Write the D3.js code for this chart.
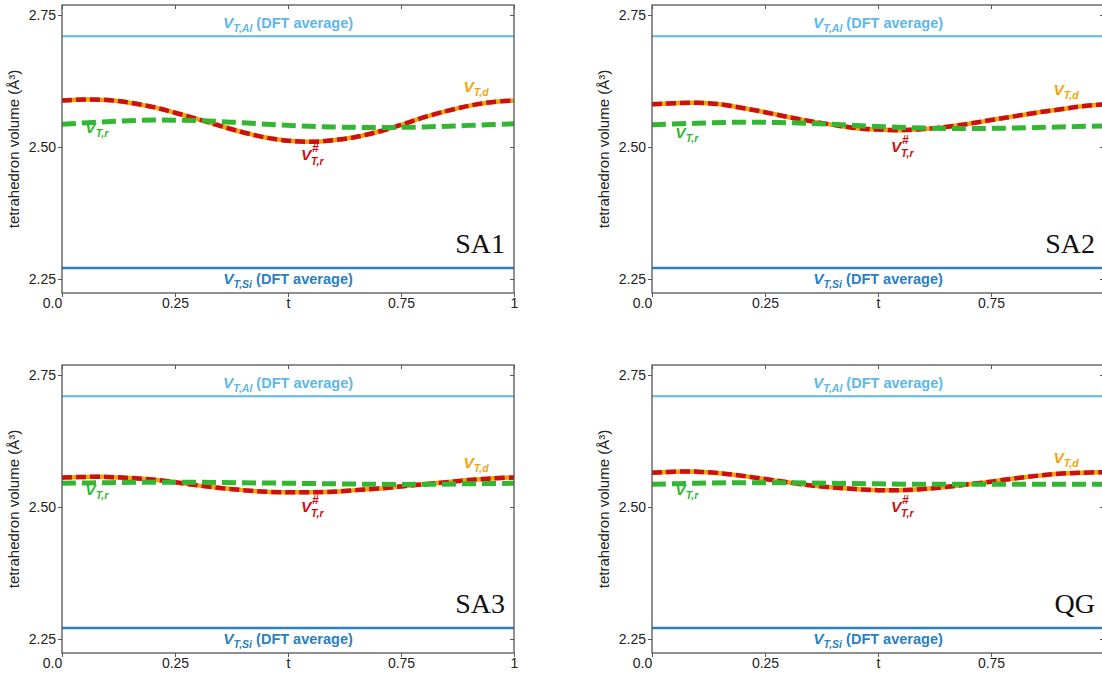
<!DOCTYPE html>
<html lang="en">
<head>
<meta charset="UTF-8">
<title>Tetrahedron volume</title>
<style>
  body { margin: 0; background: #fff; }
  svg { display: block; font-family: "Liberation Sans", Arial, sans-serif; }
</style>
</head>
<body>
<div id="chart"></div>
<script src="https://d3js.org/d3.v7.min.js"></script>
<script>
// path parameter t
const tFine = [0, 0.05, 0.1, 0.15, 0.2, 0.25, 0.3, 0.35, 0.4, 0.45, 0.5, 0.55, 0.6, 0.65, 0.7, 0.75, 0.8, 0.85, 0.9, 0.95, 1];
const tCoarse = [0, 0.1, 0.2, 0.3, 0.4, 0.5, 0.6, 0.7, 0.8, 0.9, 1];

const panelNames = ["SA1", "SA2", "SA3", "QG"];

// V_T,d / V#_T,r (same curve, read on tFine)
const sa1Sharp = [2.588, 2.590, 2.589, 2.584, 2.576, 2.565, 2.553, 2.540, 2.528, 2.518, 2.512, 2.510, 2.513, 2.519, 2.529, 2.542, 2.556, 2.568, 2.578, 2.585, 2.588];
const sa2Sharp = [2.581, 2.583, 2.584, 2.581, 2.574, 2.566, 2.557, 2.549, 2.542, 2.536, 2.533, 2.532, 2.534, 2.538, 2.544, 2.551, 2.558, 2.565, 2.571, 2.577, 2.581];
const sa3Sharp = [2.556, 2.557, 2.557, 2.555, 2.552, 2.547, 2.541, 2.536, 2.532, 2.529, 2.528, 2.528, 2.529, 2.532, 2.535, 2.539, 2.543, 2.547, 2.551, 2.554, 2.556];
const qgSharp  = [2.565, 2.567, 2.567, 2.564, 2.559, 2.553, 2.547, 2.541, 2.537, 2.534, 2.532, 2.532, 2.534, 2.538, 2.543, 2.548, 2.554, 2.559, 2.563, 2.565, 2.566];

// V_T,r (read on tCoarse)
const sa1R = [2.543, 2.548, 2.551, 2.550, 2.546, 2.541, 2.538, 2.537, 2.538, 2.541, 2.544];
const sa2R = [2.542, 2.545, 2.547, 2.546, 2.543, 2.539, 2.536, 2.535, 2.536, 2.538, 2.540];
const sa3R = [2.545, 2.546, 2.547, 2.547, 2.546, 2.545, 2.544, 2.543, 2.543, 2.544, 2.545];
const qgR  = [2.543, 2.545, 2.546, 2.546, 2.545, 2.544, 2.543, 2.543, 2.543, 2.543, 2.543];

// DFT averages
const vAl = 2.710;
const vSi = 2.271;

// label anchor points [t, value] for V_T,r, V#_T,r, V_T,d
const labelR = [[0.077, 2.526], [0.077, 2.518], [0.077, 2.522], [0.077, 2.522]];
const labelSharp = [[0.553, 2.476], [0.553, 2.490], [0.553, 2.490], [0.553, 2.490]];
const labelD = [[0.916, 2.604], [0.916, 2.598], [0.916, 2.574], [0.916, 2.583]];

const yTicks = [2.25, 2.5, 2.75];
const xTicks = [0, 0.25, 0.5, 0.75, 1];
const xTickLabels = ["0.0", "0.25", "t", "0.75", "1"];

const sharpSeries = [sa1Sharp, sa2Sharp, sa3Sharp, qgSharp];
const rSeries = [sa1R, sa2R, sa3R, qgR];

const W = 1102, H = 677;
const pw = 452, ph = 288;
const origins = [[62, 5], [652, 5], [62, 365], [652, 365]];

const cAl = "#5db7ea", cSi = "#2a7fc2", cGreen = "#33b733", cOrange = "#f2a40c", cRed = "#cc1010";

const svg = d3.select("#chart").append("svg")
  .attr("width", W)
  .attr("height", H);

const x = d3.scaleLinear().domain([0, 1]).range([0, pw]);
const y = d3.scaleLinear().domain([2.2235, 2.769]).range([ph, 0]);

const line = d3.line()
  .x(d => x(d[0]))
  .y(d => y(d[1]))
  .curve(d3.curveCatmullRom);

// V with subscript
function vLabel(g, px, py, sub, color, anchor) {
  const t = g.append("text")
    .attr("x", px).attr("y", py)
    .attr("fill", color)
    .attr("font-weight", "bold")
    .attr("font-size", 14.5)
    .attr("text-anchor", anchor || "start");
  t.append("tspan").attr("font-style", "italic").attr("font-size", 15.5).text("V");
  t.append("tspan").attr("font-style", "italic").attr("font-size", 10.5)
    .attr("dy", 4).text(sub);
  return t;
}

// V with stacked superscript # and subscript (separate texts)
function vSharpLabel(g, px, py, sub, color) {
  const base = g.append("g")
    .attr("fill", color)
    .attr("font-weight", "bold")
    .attr("font-style", "italic");
  base.append("text").attr("x", px).attr("y", py).attr("font-size", 15.5).text("V");
  base.append("text").attr("x", px + 11).attr("y", py - 8).attr("font-size", 12).text("#");
  base.append("text").attr("x", px + 10).attr("y", py + 5).attr("font-size", 10.5).text(sub);
}

panelNames.forEach((name, i) => {
  const g = svg.append("g")
    .attr("transform", `translate(${origins[i][0]},${origins[i][1]})`);

  // DFT averages
  g.append("line")
    .attr("x1", 0).attr("x2", pw)
    .attr("y1", y(vAl)).attr("y2", y(vAl))
    .attr("stroke", cAl).attr("stroke-width", 2);
  g.append("line")
    .attr("x1", 0).attr("x2", pw)
    .attr("y1", y(vSi)).attr("y2", y(vSi))
    .attr("stroke", cSi).attr("stroke-width", 2.5);

  const tAl = vLabel(g, x(0.5), y(vAl) - 8, "T,Al", cAl, "middle");
  tAl.append("tspan").attr("dy", -4).text(" (DFT average)");
  const tSi = vLabel(g, x(0.5), y(vSi) + 16, "T,Si", cSi, "middle");
  tSi.append("tspan").attr("dy", -4).text(" (DFT average)");

  // curves
  const sharp = tFine.map((t, k) => [t, sharpSeries[i][k]]);
  const r = tCoarse.map((t, k) => [t, rSeries[i][k]]);

  g.append("path").datum(sharp)
    .attr("fill", "none").attr("stroke", cOrange).attr("stroke-width", 4.5)
    .attr("d", line);
  g.append("path").datum(sharp)
    .attr("fill", "none").attr("stroke", cRed).attr("stroke-width", 4.5)
    .attr("stroke-dasharray", "10,4")
    .attr("d", line);
  g.append("path").datum(r)
    .attr("fill", "none").attr("stroke", cGreen).attr("stroke-width", 5)
    .attr("stroke-dasharray", "14,6")
    .attr("d", line);

  vLabel(g, x(labelR[i][0]), y(labelR[i][1]), "T,r", cGreen, "middle");
  vSharpLabel(g, x(labelSharp[i][0]) - 11, y(labelSharp[i][1]), "T,r", cRed);
  vLabel(g, x(labelD[i][0]), y(labelD[i][1]), "T,d", cOrange, "middle");

  // frame
  g.append("rect")
    .attr("width", pw).attr("height", ph)
    .attr("fill", "none").attr("stroke", "#555").attr("stroke-width", 1.3);

  // left axis, outward ticks
  const yAxis = g.append("g")
    .call(d3.axisLeft(y).tickValues(yTicks).tickFormat(d3.format(".2f")).tickSize(4).tickPadding(2));
  yAxis.select(".domain").remove();
  yAxis.selectAll("line").attr("stroke", "#555");
  yAxis.selectAll("text").attr("font-size", 14).attr("fill", "#222").style("font-family", "Liberation Sans, Arial, sans-serif");

  // right side inward ticks
  g.append("g").attr("transform", `translate(${pw},0)`)
    .call(d3.axisLeft(y).tickValues(yTicks).tickFormat("").tickSize(4))
    .call(a => a.select(".domain").remove())
    .selectAll("line").attr("stroke", "#555");

  // bottom axis (the "1" at the far right edge is cut off in the source)
  const xAxis = g.append("g").attr("transform", `translate(0,${ph})`)
    .call(d3.axisBottom(x).tickValues(xTicks)
      .tickFormat((d, k) => (origins[i][0] + x(d) > W - 4) ? "" : xTickLabels[k])
      .tickSize(4).tickPadding(1));
  xAxis.select(".domain").remove();
  xAxis.selectAll("line").attr("stroke", "#555");
  xAxis.selectAll("text").attr("font-size", 14).attr("fill", "#222").style("font-family", "Liberation Sans, Arial, sans-serif")
    .attr("dx", (d, k) => k === 0 ? -10 : 0);

  // top inward ticks
  g.append("g")
    .call(d3.axisBottom(x).tickValues(xTicks).tickFormat("").tickSize(4))
    .call(a => a.select(".domain").remove())
    .selectAll("line").attr("stroke", "#555");

  // y label
  g.append("text")
    .attr("transform", `translate(-43,${ph / 2}) rotate(-90)`)
    .attr("text-anchor", "middle")
    .attr("font-size", 15)
    .attr("fill", "#222")
    .text("tetrahedron volume (Å³)");

  // panel name
  g.append("text")
    .attr("x", pw - 9).attr("y", 248)
    .attr("text-anchor", "end")
    .attr("font-family", "Liberation Serif, 'Times New Roman', serif")
    .attr("font-size", 28)
    .attr("fill", "#111")
    .text(name);
});
</script>
</body>
</html>
